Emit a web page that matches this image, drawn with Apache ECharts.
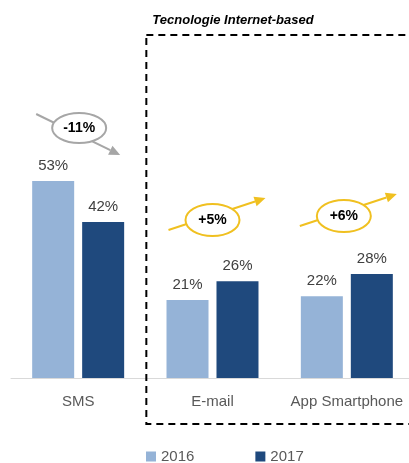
<!DOCTYPE html>
<html>
<head>
<meta charset="utf-8">
<script src="https://cdn.jsdelivr.net/npm/echarts@6/dist/echarts.min.js"></script>
<style>
  html, body { margin: 0; padding: 0; background: #fff; overflow: hidden; }
  #chart { width: 414px; height: 463px; }
</style>
</head>
<body>
<div id="chart"></div>
<script>
const categories = ['SMS', 'E-mail', 'App Smartphone']
const years = ['2016', '2017']
const values2016 = [53, 21, 22]
const values2017 = [42, 26, 28]
const changes = ['-11%', '+5%', '+6%']

const font = "'Liberation Sans', Arial, sans-serif"
const light = '#95b3d7'
const dark = '#1f497d'

// the plot runs a little past the right edge of the 409px window, as in the original
const chart = echarts.init(document.getElementById('chart'))

const option = {
  animation: false,
  textStyle: {fontFamily: font},
  grid: {left: 11, right: 0, top: 155, bottom: 85},
  legend: {
    data: years,
    left: 146,
    top: 449,
    padding: 0,
    icon: 'rect',
    itemWidth: 10,
    itemHeight: 10,
    itemGap: 61,
    selectedMode: false,
    textStyle: {color: '#595959', fontSize: 15, fontFamily: font}
  },
  xAxis: {
    type: 'category',
    data: categories,
    axisLine: {lineStyle: {color: '#d9d9d9', width: 1}},
    axisTick: {show: false},
    axisLabel: {interval: 0, color: '#595959', fontSize: 15, margin: 16, fontFamily: font}
  },
  yAxis: {type: 'value', min: 0, max: 60, show: false, splitLine: {show: false}},
  series: [
    {
      name: years[0],
      type: 'bar',
      data: values2016,
      barWidth: 42,
      barGap: '19%',
      itemStyle: {color: light},
      label: {show: true, position: 'top', distance: 8, formatter: '{c}%', color: '#404040', fontSize: 15}
    },
    {
      name: years[1],
      type: 'bar',
      data: values2017,
      barWidth: 42,
      itemStyle: {color: dark},
      label: {show: true, position: 'top', distance: 8, formatter: '{c}%', color: '#404040', fontSize: 15}
    }
  ]
}
chart.setOption(option)

// arrow = line + triangle head
function arrow (x1, y1, x2, y2, color) {
  const a = Math.atan2(y2 - y1, x2 - x1)
  const len = 11, w = 5
  const bx = x2 - len * Math.cos(a), by = y2 - len * Math.sin(a)
  return [
    {type: 'line', shape: {x1: x1, y1: y1, x2: bx, y2: by}, style: {stroke: color, lineWidth: 2}, z: 10},
    {type: 'polygon', shape: {points: [[x2, y2], [bx + w * Math.sin(a), by - w * Math.cos(a)], [bx - w * Math.sin(a), by + w * Math.cos(a)]]}, style: {fill: color}, z: 10}
  ]
}

function badge (cx, cy, text, color, down) {
  const els = down
    ? arrow(cx - 43, cy - 14, cx + 41, cy + 27, color)
    : arrow(cx - 44, cy + 10, cx + 53, cy - 22, color)
  els.push({type: 'ellipse', shape: {cx: cx, cy: cy, rx: 27, ry: down ? 15 : 16}, style: {fill: '#fff', stroke: color, lineWidth: 2}, z: 11})
  els.push({type: 'text', x: cx, y: cy, style: {text: text, fill: '#000', font: 'bold 14px ' + font, align: 'center', verticalAlign: 'middle'}, z: 12})
  return els
}

const badgeY = [128, 220, 216]
const badgeDx = [1, 0, -3]
let graphics = []
categories.forEach(function (c, i) {
  const px = chart.convertToPixel({xAxisIndex: 0}, i)
  const down = values2017[i] < values2016[i]
  graphics = graphics.concat(badge(px + badgeDx[i], badgeY[i], changes[i], down ? '#a6a6a6' : '#f0c020', down))
})

// dashed box around internet-based technologies
const boxLeft = (chart.convertToPixel({xAxisIndex: 0}, 0) + chart.convertToPixel({xAxisIndex: 0}, 1)) / 2 + 1
graphics.push({type: 'rect', shape: {x: boxLeft, y: 35, width: 300, height: 389}, style: {fill: 'none', stroke: '#000', lineWidth: 2, lineDash: [7, 5]}, z: 5})
graphics.push({type: 'text', x: boxLeft + 6, y: 20, style: {text: 'Tecnologie Internet-based', fill: '#000', font: 'italic bold 13px ' + font, verticalAlign: 'middle'}})

chart.setOption({graphic: graphics})
</script>
</body>
</html>
